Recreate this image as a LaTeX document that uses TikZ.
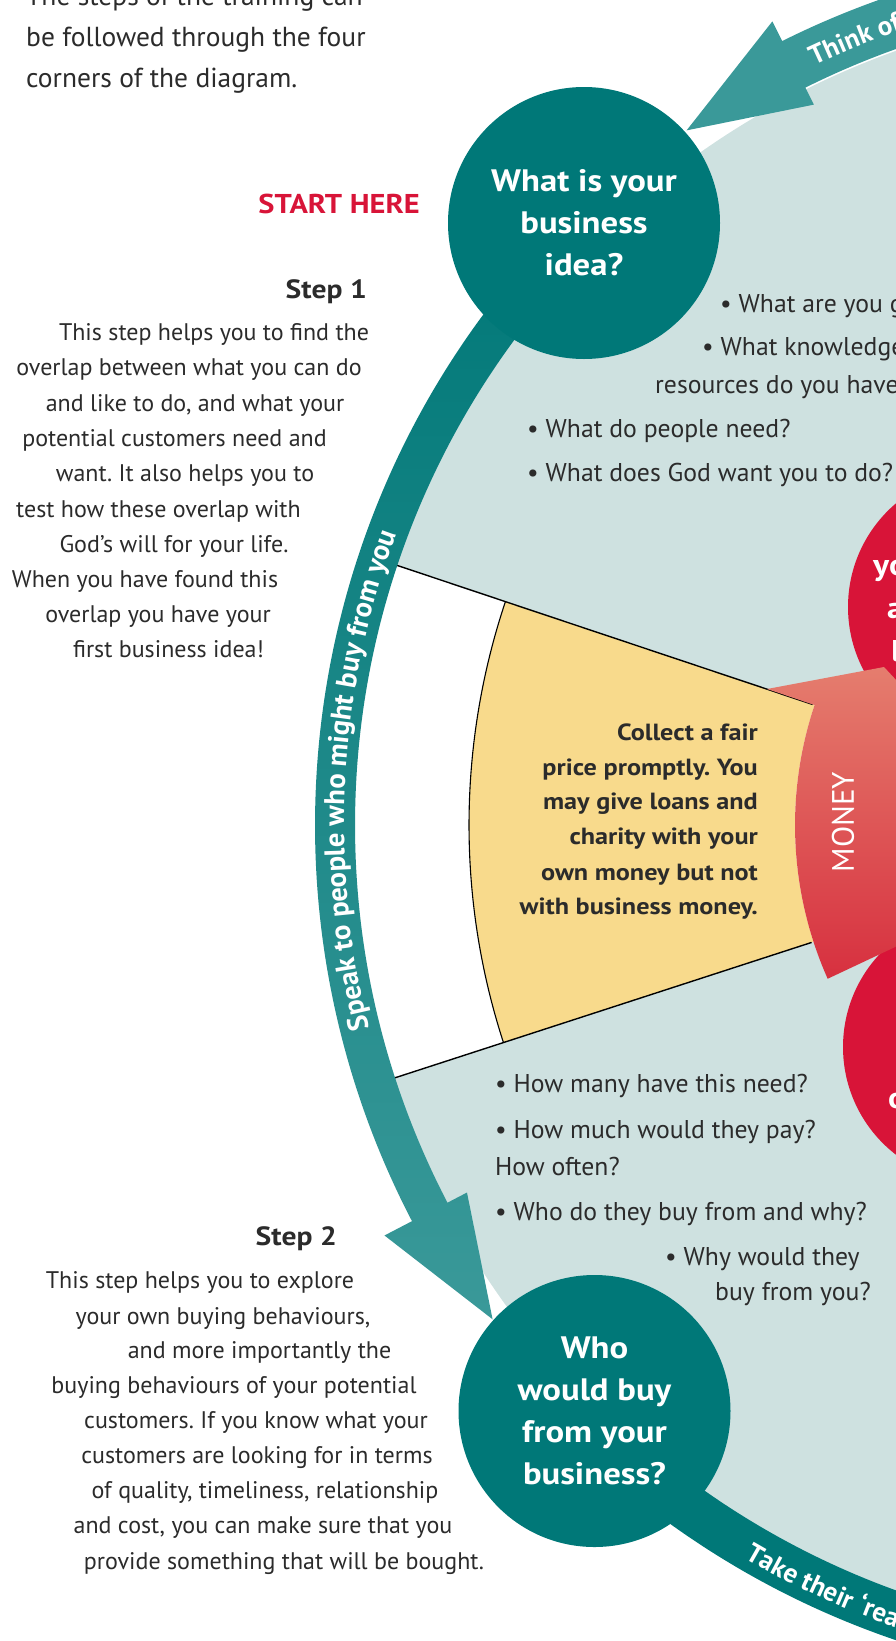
\documentclass[tikz,border=0pt]{standalone}
\usepackage{fontspec}
\setmainfont{PT Sans}
\newfontfamily\widebold{PT Sans}[FakeStretch=1.12]
\usetikzlibrary{calc,decorations.text}
\newcommand\setfs[1]{\fontsize{#1}{#1}\selectfont}
\newcommand\setfsl[2]{\fontsize{#1}{#2}\selectfont}
\definecolor{tealdark}{HTML}{007878}
\definecolor{tealmid}{HTML}{0A8C8C}
\definecolor{teallight}{HTML}{3A9999}
\definecolor{lightblue}{HTML}{CEE1E0}
\definecolor{yellowf}{HTML}{F8DA8C}
\definecolor{crimson}{HTML}{D81438}
\definecolor{salmon}{HTML}{E57D6E}
\definecolor{salmonmid}{HTML}{E2685E}
\definecolor{moneyred}{HTML}{D7303F}
\definecolor{textdark}{HTML}{2B2B2B}
\frenchspacing
\begin{document}
\begin{tikzpicture}[x=1pt,y=-1pt,
  body/.style={font=\setfs{24}, text=textdark, inner sep=0pt, anchor=base},
  topw/.style={font=\setfs{27.5}, text=textdark, inner sep=0pt, anchor=base west},
  bullet/.style={font=\setfs{25.7}, text=textdark, inner sep=0pt, anchor=base west},
  head/.style={font=\widebold\bfseries\setfs{26.4}, text=textdark, inner sep=0pt, anchor=base east},
  yelt/.style={font=\widebold\bfseries\setfs{23.4}, text=textdark, inner sep=0pt, anchor=base east},
  tealcirc/.style={circle, fill=tealdark, minimum size=272pt, inner sep=0pt, text=white, font=\widebold\bfseries\setfsl{31}{42}, align=center},
  redcirc/.style={circle, fill=crimson, minimum size=272pt, inner sep=0pt},
  redtext/.style={font=\widebold\bfseries\setfs{30}, text=white, inner sep=0pt, anchor=base west},
]
\useasboundingbox (0,0) rectangle (895,1641);
\coordinate (C) at (1173,825);

% light blue disk
\fill[lightblue] (C) circle[radius=822];
% white wedge
\fill[white] (C) -- ($(C)+(162:834)$) arc[start angle=162,end angle=198.5,radius=834] -- cycle;
% yellow sector
\fill[yellowf] ($(C)+(162:378)$) arc[start angle=162,end angle=198.5,radius=378]
  -- ($(C)+(198.5:704)$) arc[start angle=198.5,end angle=162,radius=704] -- cycle;
\draw[line width=1.4pt] ($(C)+(162:380)$) -- ($(C)+(162:826)$);
\draw[line width=1.4pt] ($(C)+(198.5:380)$) -- ($(C)+(198.5:826)$);
\draw[line width=1.1pt] ($(C)+(162:704)$) arc[start angle=162,end angle=198.5,radius=704];

% red circles
\node[redcirc] (rc1) at (984,607) {};
\node[redcirc] (rc2) at (979,1047) {};
\node[redtext] (rt1) at (873,575) {yo};
\node[redtext] (rt2) at (887,618) {a};
\node[redtext] (rt3) at (891,661) {l};
\node[redtext] (rt4) at (888,1108) {o};

% money shape
\shade[top color=salmon, middle color=salmonmid, bottom color=moneyred]
  (767,689) -- ($(C)+(198.5:378)$) arc[start angle=198.5,end angle=156,radius=378]
  -- (910,940) -- (910,695) -- (884,667) -- cycle;
\node[rotate=90, text=white, font=\setfs{31}, inner sep=0pt] (money) at (843,822) {MONEY};

% left arrow band
\shade[top color=tealdark, middle color=tealmid, bottom color=teallight]
  ($(C)+(225:858)$) arc[start angle=225,end angle=152.5,radius=858]
  -- ($(C)+(152.5:889)$) -- ($(C)+(144:841)$) -- ($(C)+(152.5:796)$)
  -- ($(C)+(152.5:818)$) arc[start angle=152.5,end angle=225,radius=818] -- cycle;
% top arrow band
\fill[teallight] ($(C)+(280:876)$) arc[start angle=280,end angle=243.5,radius=876]
  -- ($(C)+(243.5:898)$) -- ($(C)+(235:848)$) -- ($(C)+(243.5:805)$)
  -- ($(C)+(243.5:824)$) arc[start angle=243.5,end angle=280,radius=824] -- cycle;
% bottom band
\fill[tealdark] ($(C)+(134.5:861)$) arc[start angle=134.5,end angle=95,radius=861]
  -- ($(C)+(95:814)$) arc[start angle=95,end angle=134.5,radius=814] -- cycle;

% band texts
\path[decorate, decoration={text along path, text align=left,
  text={|\color{white}\bfseries\setfs{28.6}|Speak to people who might buy from you}}]
  ($(C)+(165.8:829)$) arc[start angle=165.8,end angle=210,radius=829];
\path[decorate, decoration={text along path, text align=left,
  text={|\color{white}\bfseries\setfs{27}|Think of}}]
  ($(C)+(244.7:840)$) arc[start angle=244.7,end angle=265,radius=840];
\path[decorate, decoration={text along path, text align=left,
  text={|\color{white}\bfseries\setfs{27}|Take their ‘rea}}]
  ($(C)+(120.3:849)$) arc[start angle=120.3,end angle=100,radius=849];

% teal circles
\node[tealcirc] (idea) at (584,223) {What is your\\business\\idea?};
\node[tealcirc] (who) at (594.5,1411) {Who\\would buy\\from your\\business?};

% top text
\node[topw] (t1) at (26,5) {The steps of the training can};
\node[topw] (t2) at (26,46) {be followed through the four};
\node[topw] (t3) at (26,87) {corners of the diagram.};

\node[font=\widebold\bfseries\setfs{27.2}, text=crimson, inner sep=0pt, anchor=base east] (start) at (420,213) {START HERE};

% step 1
\node[head] (h1) at (367,298) {Step 1};
\node[body] (a1) at (214,340) {This step helps you to find the};
\node[body] (a2) at (189,375) {overlap between what you can do};
\node[body] (a3) at (195,411) {and like to do, and what your};
\node[body] (a4) at (174.5,446) {potential customers need and};
\node[body] (a5) at (185,481) {want. It also helps you to};
\node[body] (a6) at (158.5,517) {test how these overlap with};
\node[body] (a7) at (174,552) {God’s will for your life.};
\node[body] (a8) at (145,587) {When you have found this};
\node[body] (a9) at (158,622) {overlap you have your};
\node[body] (a10) at (168.5,657) {first business idea!};

% step 2
\node[head] (h2) at (337,1245) {Step 2};
\node[body] (b1) at (200,1288) {This step helps you to explore};
\node[body] (b2) at (223,1324) {your own buying behaviours,};
\node[body] (b3) at (259.5,1358) {and more importantly the};
\node[body] (b4) at (234,1393) {buying behaviours of your potential};
\node[body] (b5) at (256,1428) {customers. If you know what your};
\node[body] (b6) at (257,1463) {customers are looking for in terms};
\node[body] (b7) at (265,1498) {of quality, timeliness, relationship};
\node[body] (b8) at (263,1533) {and cost, you can make sure that you};
\node[body] (b9) at (284,1569) {provide something that will be bought.};

% bullets top
\node[bullet] (q1) at (720,312) {• What are you g};
\node[bullet] (q2) at (702,355) {• What knowledge};
\node[bullet] (q3) at (655,393) {resources do you have};
\node[bullet] (q4) at (527,437) {• What do people need?};
\node[bullet] (q5) at (527,481) {• What does God want you to do?};

% bullets bottom
\node[bullet] (r1) at (495,1092) {• How many have this need?};
\node[bullet] (r2) at (495,1138) {• How much would they pay?};
\node[bullet] (r3) at (495,1175) {How often?};
\node[bullet] (r4) at (495,1220) {• Who do they buy from and why?};
\node[bullet] (r5) at (665,1265) {• Why would they};
\node[bullet] (r6) at (715,1300) {buy from you?};

% yellow text
\node[yelt] (y1) at (758,740) {Collect a fair};
\node[yelt] (y2) at (758,775) {price promptly. You};
\node[yelt] (y3) at (758,809) {may give loans and};
\node[yelt] (y4) at (758,844) {charity with your};
\node[yelt] (y5) at (758,880) {own money but not};
\node[yelt] (y6) at (758,914) {with business money.};
\end{tikzpicture}
\end{document}
